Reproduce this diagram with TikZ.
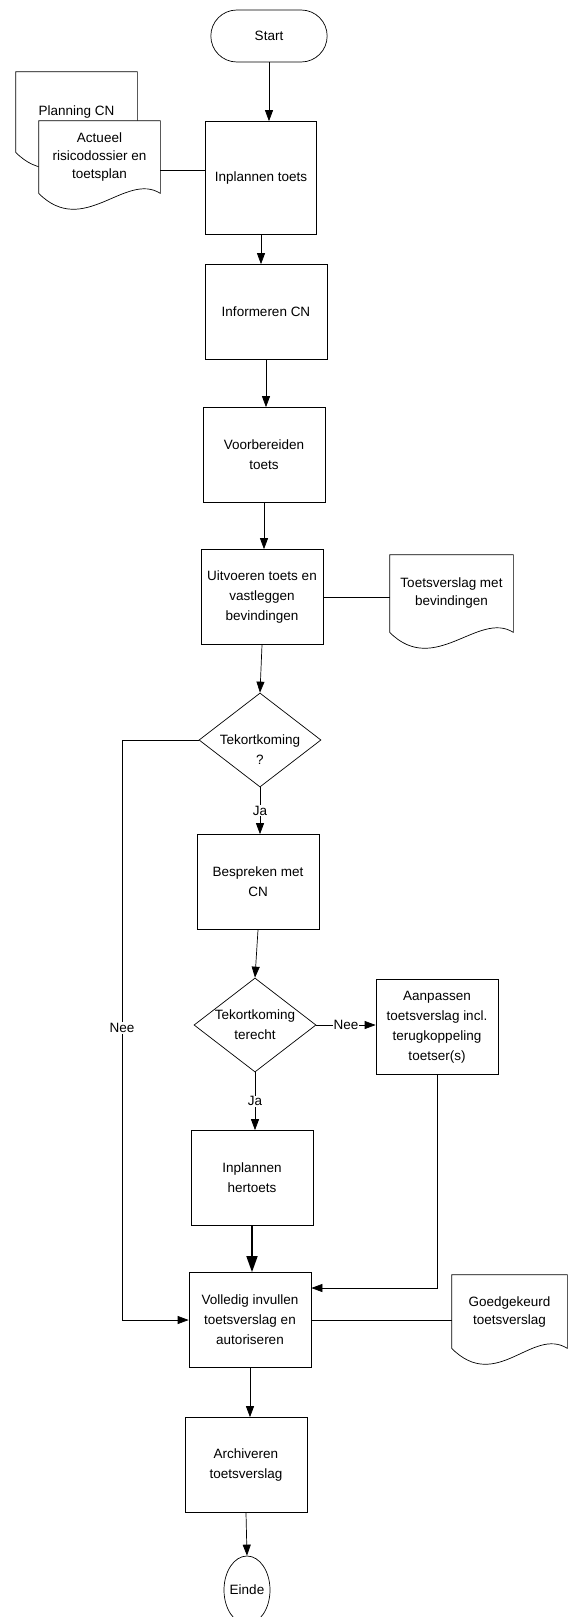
\documentclass[tikz,border=0pt]{standalone}
\usepackage{fontspec}
\setmainfont{Liberation Sans}
\usetikzlibrary{arrows.meta}
\usetikzlibrary{shapes.geometric,shapes.misc}

% document symbol: empty frame node, wavy outline, text on top
\newcommand{\docnode}[5]{%
  \node[docbox, minimum width=#3, minimum height=#4] (#1) at (#2) {};
  \draw[fill=white] (#1.south west) -- (#1.north west) -- (#1.north east) -- (#1.south east)
    .. controls +(-35,-22) and +(45,45) .. (#1.south west);
  \node[doctext] (#1-text) at (#1) {#5};
}

\begin{document}
\begin{tikzpicture}[
		x=1pt, y=-1pt,
		line width=0.7pt,
		>={Triangle[length=11pt,width=8pt]},
		every node/.style={font=\fontsize{13.5}{20}\selectfont},
		process/.style={draw,rectangle,minimum width=122pt,minimum height=95pt,align=center,inner sep=2pt},
		terminal/.style={draw,rounded rectangle,minimum width=123pt,minimum height=52pt},
		decision/.style={draw,diamond,minimum width=122pt,minimum height=94pt,inner sep=0pt},
		docbox/.style={rectangle,inner sep=0pt},
		doctext/.style={align=center,font=\fontsize{13.5}{18}\selectfont},
		branch/.style={fill=white,inner sep=1pt}
	]
		\useasboundingbox (0,0) rectangle (569,1617);

		% Terminals
		\node[terminal] (start) at (269,36) {Start};
		\node[draw,ellipse,minimum width=46pt,minimum height=68pt,inner sep=0pt,label=center:Einde] (einde) at (247,1590) {};

		% Processes
		\node[process,minimum width=111pt,minimum height=113pt] (inplan) at (261,178) {Inplannen toets};
		\node[process] (inform) at (266,312) {Informeren CN};
		\node[process] (voorb) at (264,455) {Voorbereiden\\toets};
		\node[process] (uitv) at (262,597) {Uitvoeren toets en\\vastleggen\\bevindingen};
		\node[process] (bespr) at (258,882) {Bespreken met\\CN};
		\node[process] (aanp) at (437,1027) {Aanpassen\\toetsverslag incl.\\terugkoppeling\\toetser(s)};
		\node[process] (hert) at (252,1178) {Inplannen\\hertoets};
		\node[process] (voll) at (250,1320) {Volledig invullen\\toetsverslag en\\autoriseren};
		\node[process] (archi) at (246,1465) {Archiveren\\toetsverslag};

		% Decisions
		\node[decision,label={[align=center,yshift=-10pt]center:Tekortkoming\\?}] (dec1) at (260,740) {};
		\node[decision,label={[align=center]center:Tekortkoming\\terecht}] (dec2) at (255,1025) {};

		% Documents
		\docnode{plan}{76.5,112}{121pt}{80pt}{Planning CN}
		\docnode{actu}{99.5,157}{121pt}{72pt}{Actueel\\risicodossier en\\toetsplan}
		\docnode{verslag}{451.5,593.5}{123pt}{77pt}{Toetsverslag met\\bevindingen}
		\docnode{goedg}{509.5,1311.5}{115pt}{73pt}{Goedgekeurd\\toetsverslag}

		% Flow
		\draw[->] (start.south) -- (start.south |- inplan.north);
		\coordinate (a1) at ([yshift=8pt]inplan.west);
		\draw (a1) -- (a1 -| actu.east);
		\draw[->] (inplan.south) -- (inplan.south |- inform.north);
		\draw[->] (inform.south) -- (inform.south |- voorb.north);
		\draw[->] (voorb.south) -- (voorb.south |- uitv.north);
		\draw (uitv.east) -- (uitv.east -| verslag.west);
		\draw[->] (uitv.south) -- (dec1.north);
		\draw[->] (dec1.south) -- node[branch] (ja1) {Ja} (dec1.south |- bespr.north);
		\draw[->] (bespr.south) -- (dec2.north);
		\draw[->] (dec2.east) -- node[branch] (nee2) {Nee} (dec2.east -| aanp.west);
		\draw[->] (dec2.south) -- node[branch] (ja2) {Ja} (dec2.south |- hert.north);
		\draw[-{Triangle[length=16pt,width=11pt]},line width=1.6pt] (hert.south) -- (hert.south |- voll.north);
		\coordinate (b1) at ([yshift=32pt]voll.east);
		\draw[->] (aanp.south) |- (b1);
		\coordinate (neebend) at (122,740);
		\draw[->] (dec1.west) -- (neebend) |- (voll.west);
		\node[branch] (nee1) at (122,1028) {Nee};
		\draw (voll.east) -- (voll.east -| goedg.west);
		\draw[->] (voll.south) -- (voll.south |- archi.north);
		\draw[->] (archi.south) -- (einde.north);
\end{tikzpicture}
\end{document}
